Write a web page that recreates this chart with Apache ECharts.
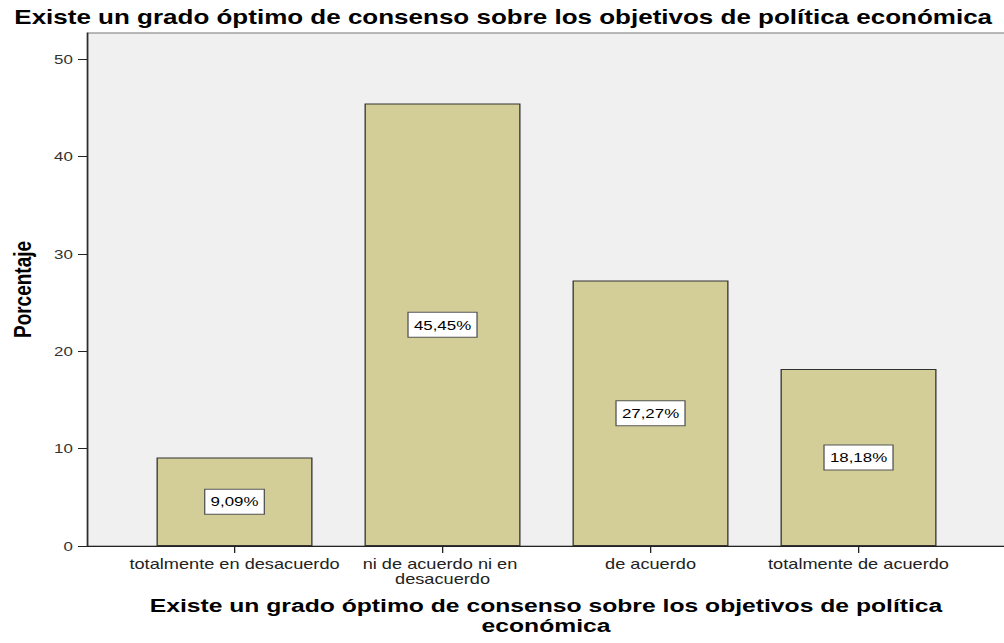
<!DOCTYPE html>
<html>
<head>
<meta charset="utf-8">
<title>Consenso sobre los objetivos de política económica</title>
<script src="https://cdn.jsdelivr.net/npm/echarts@6/dist/echarts.min.js"></script>
<style>
  html, body { margin: 0; padding: 0; background: #fff; overflow: hidden; }
  /* the original picture is stretched horizontally, so the chart is too */
  #chart { width: 773px; height: 643px; transform: scaleX(1.3); transform-origin: 0 0; }
</style>
</head>
<body>
<div id="chart"></div>
<script>
const categories = ['totalmente en desacuerdo', 'ni de acuerdo ni en desacuerdo', 'de acuerdo', 'totalmente de acuerdo'];
const porcentajes = [9.09, 45.45, 27.27, 18.18];
const yTicks = [0, 10, 20, 30, 40, 50];

const chartTitle = 'Existe un grado óptimo de consenso sobre los objetivos de política económica';
const xTitle = 'Existe un grado óptimo de consenso sobre los objetivos de política\neconómica';
const yTitle = 'Porcentaje';

const font = "'Liberation Sans', Arial, sans-serif";
const yMax = 52.7;

const myChart = echarts.init(document.getElementById('chart'), null, { renderer: 'svg' });

const option = {
  animation: false,
  title: {
    text: chartTitle,
    left: 6,
    top: 2,
    textStyle: { fontFamily: font, fontSize: 20, fontWeight: 'bold', color: '#000' }
  },
  grid: [
    // plot frame with grey background
    { left: 65.4, top: 33, width: 710, height: 513, show: true, backgroundColor: '#f0f0f0', borderColor: '#777', borderWidth: 1 },
    // bars
    { left: 100.4, top: 33, width: 640, height: 513 }
  ],
  xAxis: [
    {
      gridIndex: 0,
      type: 'value',
      min: 0,
      max: 1,
      axisLine: { show: true, lineStyle: { color: '#222', width: 1 } },
      axisTick: { show: false },
      axisLabel: { show: false },
      splitLine: { show: false },
      name: xTitle,
      nameLocation: 'middle',
      nameGap: 50,
      nameTextStyle: { fontFamily: font, fontSize: 19, fontWeight: 'bold', color: '#000', lineHeight: 20 }
    },
    {
      gridIndex: 1,
      type: 'category',
      data: categories,
      axisLine: { show: true, lineStyle: { color: '#222', opacity: 0 } },
      axisTick: { show: true, alignWithLabel: true, length: 7, lineStyle: { color: '#222' } },
      axisLabel: {
        fontFamily: font,
        fontSize: 14,
        color: '#222',
        margin: 10,
        lineHeight: 15,
        width: 175,
        overflow: 'break',
        interval: 0
      }
    }
  ],
  yAxis: [
    {
      gridIndex: 0,
      type: 'value',
      min: 0,
      max: yMax,
      axisLine: { show: true, lineStyle: { color: '#222', width: 1 } },
      axisTick: { show: true, length: 7, customValues: yTicks, lineStyle: { color: '#222' } },
      axisLabel: { customValues: yTicks, fontFamily: font, fontSize: 13, color: '#333', margin: 11 },
      splitLine: { show: false },
      name: yTitle,
      nameLocation: 'middle',
      nameGap: 40,
      nameTextStyle: { fontFamily: font, fontSize: 19, fontWeight: 'bold', color: '#000' }
    },
    {
      gridIndex: 1,
      type: 'value',
      min: 0,
      max: yMax,
      show: false
    }
  ],
  series: [
    {
      type: 'bar',
      xAxisIndex: 1,
      yAxisIndex: 1,
      data: porcentajes,
      barWidth: 120,
      itemStyle: { color: '#d3ce97', borderColor: '#333', borderWidth: 1 },
      label: {
        show: true,
        position: 'inside',
        formatter: p => p.value.toFixed(2).replace('.', ',') + '%',
        fontFamily: font,
        fontSize: 13,
        color: '#000',
        backgroundColor: '#fff',
        borderColor: '#555',
        borderWidth: 1,
        padding: [5, 4],
        lineHeight: 14
      }
    }
  ]
};

myChart.setOption(option);
</script>
</body>
</html>
